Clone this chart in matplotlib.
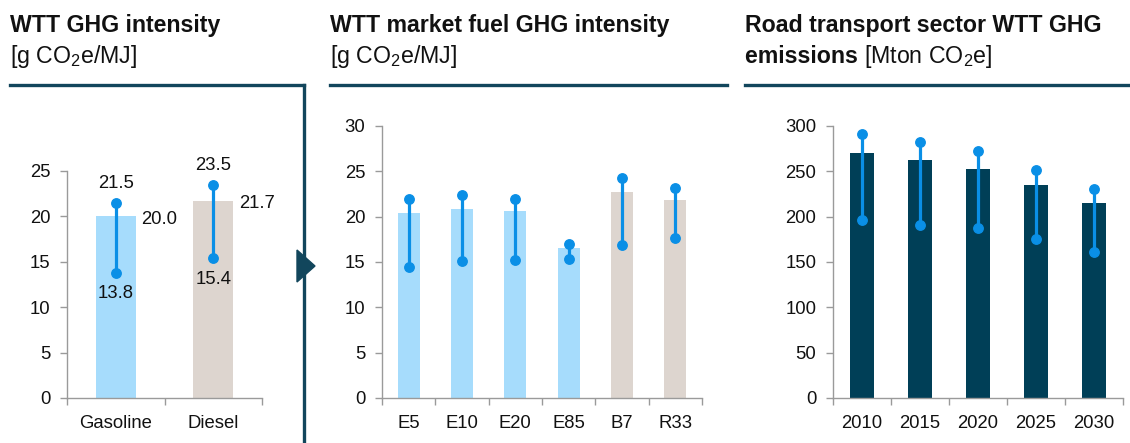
import matplotlib
matplotlib.use("Agg")
import matplotlib.pyplot as plt
from matplotlib.lines import Line2D
from matplotlib.patches import Polygon
import numpy as np

# ---------------- data ----------------
p1_cats = ["Gasoline", "Diesel"]
p1_vals = [20.0, 21.7]
p1_high = [21.5, 23.5]
p1_low = [13.8, 15.4]
p1_colors = ["#a6dcfc", "#ddd5cf"]

p2_cats = ["E5", "E10", "E20", "E85", "B7", "R33"]
p2_vals = [20.4, 20.8, 20.6, 16.5, 22.7, 21.8]
p2_high = [22.0, 22.4, 22.0, 17.0, 24.3, 23.2]
p2_low = [14.4, 15.1, 15.25, 15.3, 16.9, 17.6]
p2_colors = ["#a6dcfc"] * 4 + ["#ddd5cf"] * 2

p3_cats = ["2010", "2015", "2020", "2025", "2030"]
p3_vals = [270, 262, 253, 235, 215]
p3_high = [291, 282, 272, 252, 230]
p3_low = [196, 191, 187, 175, 161]
p3_color = "#003f57"

p1_yticks = [0, 5, 10, 15, 20, 25]
p2_yticks = [0, 5, 10, 15, 20, 25, 30]
p3_yticks = [0, 50, 100, 150, 200, 250, 300]

# ---------------- style ----------------
W, H = 1130, 443
NARROW = ["Liberation Sans Narrow", "Liberation Sans", "DejaVu Sans"]
REG = ["Liberation Sans", "DejaVu Sans"]
plt.rcParams["font.family"] = REG
plt.rcParams["mathtext.fontset"] = "custom"
plt.rcParams["mathtext.rm"] = "Liberation Sans"
plt.rcParams["mathtext.default"] = "regular"

DOT = "#0a8fe6"
SPINE = "#9a9a9a"
NAVY = "#12465c"
TXT = "#111111"
FS = 13.3

fig = plt.figure(figsize=(W / 100, H / 100), dpi=100)


def px_axes(x0, y_top, x1, y_bot):
    return fig.add_axes([x0 / W, 1 - y_bot / H, (x1 - x0) / W, (y_bot - y_top) / H])


def style(ax, cats, yticks, ylim):
    n = len(cats)
    ax.set_xlim(-0.5, n - 0.5)
    ax.set_ylim(*ylim)
    for s in ["top", "right"]:
        ax.spines[s].set_visible(False)
    for s in ["left", "bottom"]:
        ax.spines[s].set_color(SPINE)
        ax.spines[s].set_linewidth(1.0)
    ax.set_xticks(range(n))
    ax.set_xticklabels(cats)
    ax.set_xticks(np.arange(-0.5, n, 1.0), minor=True)
    ax.tick_params(axis="x", which="major", length=0, pad=12.5, labelsize=FS, labelcolor=TXT)
    ax.tick_params(axis="x", which="minor", length=5, width=1, color=SPINE, direction="out")
    ax.set_yticks(yticks)
    ax.tick_params(axis="y", which="major", length=5, width=1, color=SPINE, pad=7,
                   labelsize=FS, labelcolor=TXT)
    ax.patch.set_alpha(0)


def ranges(ax, lows, highs):
    for i, (lo, hi) in enumerate(zip(lows, highs)):
        ax.plot([i, i], [lo, hi], color=DOT, lw=2.3, solid_capstyle="butt", zorder=3)
        ax.plot([i, i], [lo, hi], "o", color=DOT, ms=6.8, zorder=4)


BW = 0.41

# Panel 1
ax1 = px_axes(67, 171, 262, 398)
x1 = np.arange(len(p1_cats))
ax1.bar(x1, p1_vals, width=BW, color=p1_colors, zorder=2)
ranges(ax1, p1_low, p1_high)
style(ax1, p1_cats, p1_yticks, (0, 25))
for i in range(len(p1_cats)):
    ax1.annotate(f"{p1_high[i]:.1f}", (i, p1_high[i]), xytext=(0, 14), textcoords="offset points",
                 ha="center", va="center", fontsize=FS, color=TXT)
    ax1.annotate(f"{p1_low[i]:.1f}", (i, p1_low[i]), xytext=(0, -15), textcoords="offset points",
                 ha="center", va="center", fontsize=FS, color=TXT)
    ax1.annotate(f"{p1_vals[i]:.1f}", (i + BW / 2, p1_vals[i]), xytext=(4, -2), textcoords="offset points",
                 ha="left", va="center", fontsize=FS, color=TXT)

# Panel 2
ax2 = px_axes(382, 126, 702, 398)
x2 = np.arange(len(p2_cats))
ax2.bar(x2, p2_vals, width=BW, color=p2_colors, zorder=2)
ranges(ax2, p2_low, p2_high)
style(ax2, p2_cats, p2_yticks, (0, 30))

# Panel 3
ax3 = px_axes(833, 126, 1123, 398)
x3 = np.arange(len(p3_cats))
ax3.bar(x3, p3_vals, width=BW, color=p3_color, zorder=2)
ranges(ax3, p3_low, p3_high)
style(ax3, p3_cats, p3_yticks, (0, 300))

# ---------------- titles and frame lines ----------------
TS = 16.7


def fx(px):
    return px / W


def fy(py):
    return 1 - py / H


fig.text(fx(10), fy(32), "WTT GHG intensity", family=NARROW, weight="bold", fontsize=TS,
         color=TXT, va="baseline")
fig.text(fx(10), fy(63), r"[g CO$_2$e/MJ]", family=NARROW, fontsize=TS, color=TXT, va="baseline")

fig.text(fx(330), fy(32), "WTT market fuel GHG intensity", family=NARROW, weight="bold", fontsize=TS,
         color=TXT, va="baseline")
fig.text(fx(330), fy(63), r"[g CO$_2$e/MJ]", family=NARROW, fontsize=TS, color=TXT, va="baseline")

fig.text(fx(745), fy(32), "Road transport sector WTT GHG", family=NARROW, weight="bold", fontsize=TS,
         color=TXT, va="baseline")
t_em = fig.text(fx(745), fy(63), "emissions ", family=NARROW, weight="bold", fontsize=TS,
                color=TXT, va="baseline")
fig.canvas.draw()
bb = t_em.get_window_extent(renderer=fig.canvas.get_renderer())
fig.text(bb.x1 / W, fy(63), r"[Mton CO$_2$e]", family=NARROW, fontsize=TS, color=TXT, va="baseline")

LW = 2.4
fig.add_artist(Line2D([fx(10), fx(304)], [fy(85), fy(85)], color=NAVY, lw=LW))
fig.add_artist(Line2D([fx(304), fx(304)], [fy(85), fy(445)], color=NAVY, lw=LW))
fig.add_artist(Line2D([fx(330), fx(727)], [fy(85), fy(85)], color=NAVY, lw=LW))
fig.add_artist(Line2D([fx(745), fx(1130)], [fy(85), fy(85)], color=NAVY, lw=LW))
fig.add_artist(Polygon([[fx(297), fy(250)], [fx(315), fy(266)], [fx(297), fy(282)]],
                       closed=True, color=NAVY, transform=fig.transFigure))

fig.savefig("out.png", dpi=100)
